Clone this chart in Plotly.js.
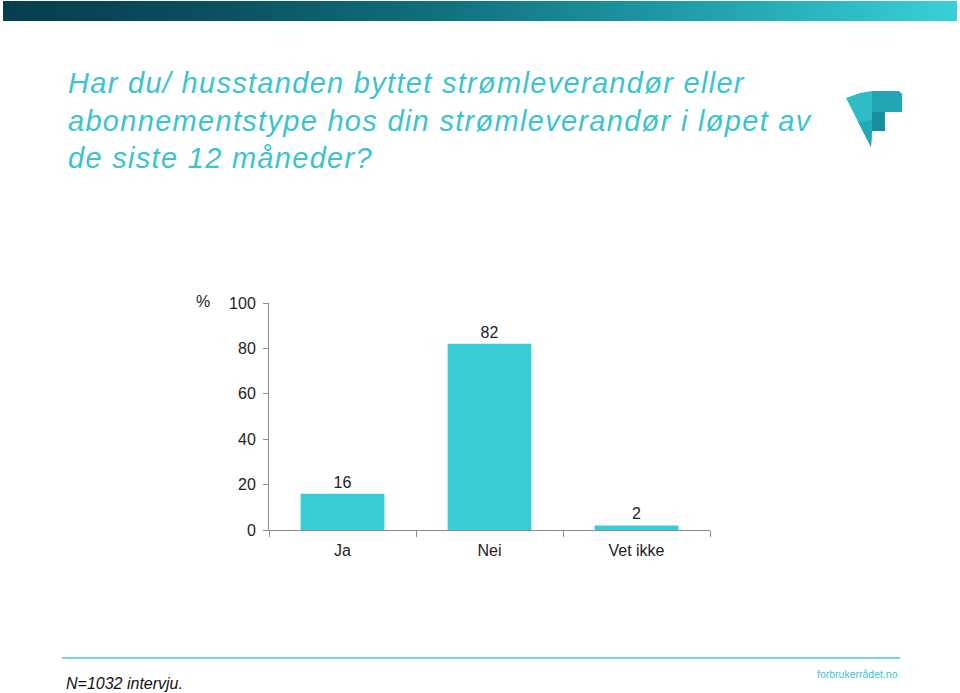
<!DOCTYPE html>
<html>
<head>
<meta charset="utf-8">
<script src="https://cdn.plot.ly/plotly-3.0.1.min.js"></script>
<style>
  html, body { margin: 0; padding: 0; background: #ffffff; }
  #wrap { position: relative; width: 960px; height: 693px; }
  #topbar { position: absolute; left: 3px; top: 1px; width: 954px; height: 20px;
    background: linear-gradient(to right, #073e4d 0%, #0a4d5c 20%, #106f7b 45%, #1e9aa5 70%, #39d0d7 100%); z-index: 5; }
  #chart { position: absolute; left: 0; top: 0; width: 960px; height: 693px; }
  .annotation[data-index="0"] .annotation-text { letter-spacing: 1.3px; }
</style>
</head>
<body>
<div id="wrap">
  <div id="chart"></div>
  <div id="topbar"></div>
</div>
<script>
const categories = ["Ja", "Nei", "Vet ikke"];
const values = [16, 82, 2];
const valueLabels = ["16", "82", "2"];
const yTickVals = [0, 20, 40, 60, 80, 100];
const titleLines = [
  "Har du/ husstanden byttet strømleverandør eller",
  "abonnementstype hos din strømleverandør i løpet av",
  "de siste 12 måneder?"
];
const footnote = "N=1032 intervju.";
const siteText = "forbrukerrådet.no";
const unitText = "%";

// plot area in pixels
const L = 269, R = 710, T = 303, B = 530;
const W = 960, H = 693;
const px = x => (x - L) / (R - L);
const py = y => (B - y) / (B - T);
function pathOf(pts) {
  return "M " + pts.map(p => px(p[0]).toFixed(5) + "," + py(p[1]).toFixed(5)).join(" L ") + " Z";
}

const teal = "#38cdd4";
const textTeal = "#3cc4cc";
const FONT = "Liberation Sans, Arial, sans-serif";

const trace = {
  type: "bar",
  x: categories,
  y: values,
  text: valueLabels,
  textposition: "outside",
  textfont: { family: FONT, size: 16, color: "#222" },
  marker: { color: teal, line: { width: 0 } },
  cliponaxis: false,
  hoverinfo: "none"
};

const shapes = [
  // footer line
  { type: "line", xref: "paper", yref: "paper", x0: px(62), x1: px(900), y0: py(658), y1: py(658),
    line: { color: "#46c9cf", width: 1.5 } },
  // logo: left wing
  { type: "path", xref: "paper", yref: "paper", path: pathOf([[846,98],[860,93],[872,91],[872,132],[871,147]]),
    fillcolor: "#2fbcc6", line: { width: 0 } },
  // logo: lower wing shade
  { type: "path", xref: "paper", yref: "paper", path: pathOf([[858,122],[872,120],[872,132],[871,147]]),
    fillcolor: "#22a9b8", line: { width: 0 } },
  // logo: F top bar
  { type: "path", xref: "paper", yref: "paper", path: pathOf([[872,91],[899,91],[902,94],[902,112],[872,112]]),
    fillcolor: "#22a6b5", line: { width: 0 } },
  // logo: F stem
  { type: "path", xref: "paper", yref: "paper", path: pathOf([[872,112],[885,112],[885,131],[872,131]]),
    fillcolor: "#178fa0", line: { width: 0 } }
];

const annotations = [
  { xref: "paper", yref: "paper", x: px(66), y: py(65), xanchor: "left", yanchor: "top", align: "left",
    showarrow: false, text: titleLines.join("<br>"),
    font: { family: FONT, size: 29, color: textTeal, style: "italic" } },
  { xref: "paper", yref: "paper", x: px(203), y: py(301), xanchor: "center", yanchor: "middle",
    showarrow: false, text: unitText, font: { family: FONT, size: 16, color: "#222" } },
  { xref: "paper", yref: "paper", x: px(64), y: py(683), xanchor: "left", yanchor: "middle",
    showarrow: false, text: footnote,
    font: { family: FONT, size: 16, color: "#111", style: "italic" } },
  { xref: "paper", yref: "paper", x: px(900), y: py(674), xanchor: "right", yanchor: "middle",
    showarrow: false, text: siteText,
    font: { family: "Liberation Sans Narrow, " + FONT, size: 10.5, color: textTeal } }
];

const layout = {
  width: W, height: H,
  margin: { l: L, r: W - R, t: T, b: H - B, pad: 0 },
  paper_bgcolor: "#ffffff", plot_bgcolor: "#ffffff",
  showlegend: false,
  bargap: 0.43,
  font: { family: FONT, size: 16, color: "#222" },
  xaxis: {
    type: "category",
    showline: true, linecolor: "#8c8c8c", linewidth: 1,
    ticks: "outside", tickson: "boundaries", ticklen: 6, tickcolor: "#8c8c8c",
    showgrid: false, zeroline: false,
    tickfont: { size: 16, color: "#222" },
    ticklabelstandoff: 6
  },
  yaxis: {
    range: [0, 100], tickvals: yTickVals, ticktext: yTickVals.map(String),
    showline: true, linecolor: "#8c8c8c", linewidth: 1,
    ticks: "outside", ticklen: 5, tickcolor: "#8c8c8c",
    showgrid: false, zeroline: false,
    tickfont: { size: 16, color: "#222" },
    ticklabelstandoff: 4
  },
  shapes: shapes,
  annotations: annotations
};

Plotly.newPlot("chart", [trace], layout, { staticPlot: true, displayModeBar: false });
</script>
</body>
</html>
